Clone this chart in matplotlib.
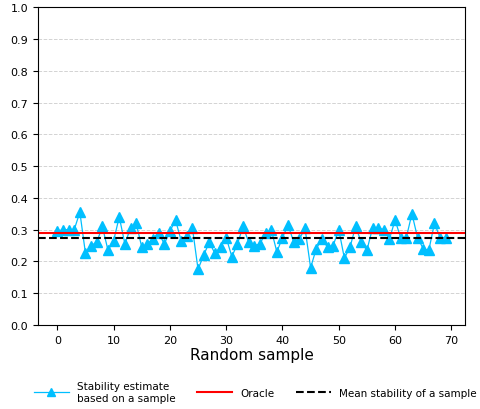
import matplotlib
matplotlib.use("Agg")
import matplotlib.pyplot as plt
import numpy as np

stability = [0.295, 0.30, 0.30, 0.30, 0.355, 0.225, 0.25, 0.26, 0.31, 0.235,
             0.265, 0.34, 0.255, 0.305, 0.32, 0.245, 0.255, 0.27, 0.29, 0.255,
             0.295, 0.33, 0.265, 0.28, 0.305, 0.175, 0.22, 0.26, 0.225, 0.245,
             0.275, 0.215, 0.255, 0.31, 0.26, 0.25, 0.255, 0.29, 0.30, 0.23,
             0.275, 0.315, 0.26, 0.27, 0.305, 0.18, 0.24, 0.27, 0.245, 0.25,
             0.30, 0.21, 0.245, 0.31, 0.26, 0.235, 0.305, 0.305, 0.30, 0.27,
             0.33, 0.275, 0.275, 0.35, 0.275, 0.24, 0.235, 0.32, 0.275, 0.275]
oracle = 0.29
mean_stability = 0.273
yticks = [0.0, 0.1, 0.2, 0.3, 0.4, 0.5, 0.6, 0.7, 0.8, 0.9, 1.0]

fig = plt.figure(figsize=(4.8, 4.1), dpi=100)
ax = fig.add_axes([0.079, 0.205, 0.89, 0.775])
x = np.arange(len(stability))
ax.plot(x, stability, color='#00BFFF', linewidth=0.9, marker='^', markersize=6.8,
        label='Stability estimate\nbased on a sample')
ax.axhline(oracle, color='red', linewidth=1.5, label='Oracle')
ax.axhline(mean_stability, color='black', linestyle='--', linewidth=1.5,
           label='Mean stability of a sample')
ax.set_ylim(0, 1.0)
ax.set_yticks(yticks)
ax.yaxis.grid(True, linestyle='--', color='lightgray', linewidth=0.7)
ax.set_axisbelow(True)
ax.tick_params(labelsize=8)
ax.set_xlabel('Random sample', fontsize=11, labelpad=2)
fig.legend(loc='lower center', ncol=3, frameon=False, fontsize=7.5,
           bbox_to_anchor=(0.532, -0.008), columnspacing=2.0, handlelength=3.4,
           markerscale=0.8)
fig.savefig('out.png', dpi=100)
